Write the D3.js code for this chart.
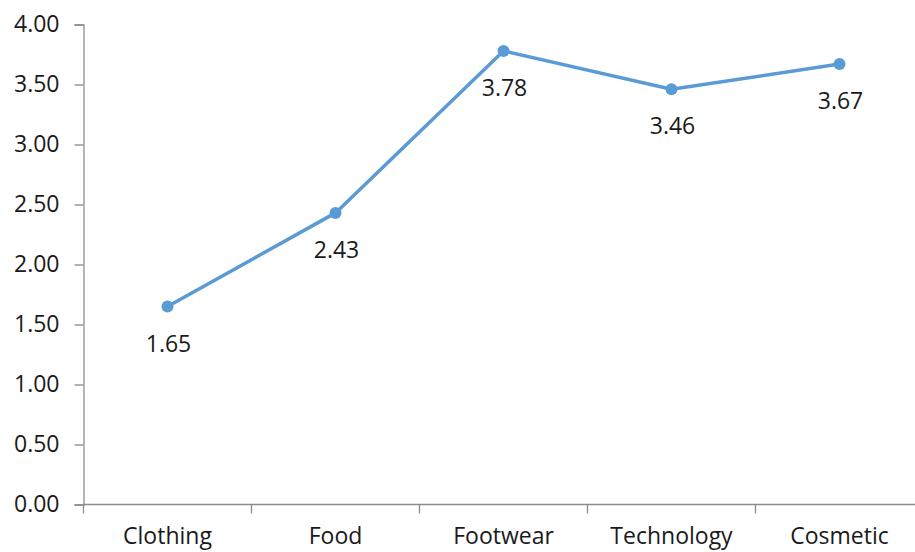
<!DOCTYPE html>
<html lang="en">
<head>
    <meta charset="UTF-8">
    <script src="https://d3js.org/d3.v7.min.js"></script>
    <title>Line chart</title>
    <style>
        body{ margin:0; background:#fff; }
        svg{ display:block; }
        text{ font-family: "Open Sans", sans-serif; fill:#1a1a1a; }
    </style>
</head>
<body>
    <script>
        const categories = ["Clothing", "Food", "Footwear", "Technology", "Cosmetic"];
        const values = [1.65, 2.43, 3.78, 3.46, 3.67];
        const yTicks = [0, 0.5, 1, 1.5, 2, 2.5, 3, 3.5, 4];

        const width = 915;
        const height = 552;
        const margin = {top: 24.5, left: 83.5, bottom: 504.5};

        const data = categories.map((c, i) => ({name: c, value: values[i]}));

        const x = d3.scaleBand()
            .domain(categories)
            .range([margin.left, margin.left + 5 * 168])
            .padding(0);

        const y = d3.scaleLinear()
            .domain([0, 4])
            .range([margin.bottom, margin.top]);

        const svg = d3.select('body')
            .append('svg')
            .attr('width', width)
            .attr('height', height);

        // y axis
        const yAxis = d3.axisLeft(y)
            .tickValues(yTicks)
            .tickFormat(d3.format('.2f'))
            .tickSize(9)
            .tickPadding(15);

        const gy = svg.append('g')
            .attr('transform', `translate(${margin.left}, 0)`)
            .call(yAxis);
        gy.select('.domain').attr('stroke', '#8c8c8c').attr('stroke-width', 1.3);
        gy.selectAll('.tick line').attr('stroke', '#8c8c8c').attr('stroke-width', 1.3);
        gy.selectAll('.tick text')
            .attr('font-size', 23)
            .attr('font-family', '"Open Sans", sans-serif')
            .attr('fill', '#1a1a1a');

        // x axis: labels centred on bands, ticks on band edges
        const xAxis = d3.axisBottom(x).tickSize(0).tickPadding(23);
        const gx = svg.append('g')
            .attr('transform', `translate(0, ${margin.bottom})`)
            .call(xAxis);
        gx.select('.domain').remove();
        gx.selectAll('.tick text')
            .attr('font-size', 23)
            .attr('font-family', '"Open Sans", sans-serif')
            .attr('fill', '#1a1a1a');

        gx.append('line')
            .attr('x1', margin.left)
            .attr('x2', width)
            .attr('stroke', '#8c8c8c')
            .attr('stroke-width', 1.3);

        gx.selectAll('.edge')
            .data(categories).enter()
            .append('line')
            .attr('class', 'edge')
            .attr('x1', d => x(d))
            .attr('x2', d => x(d))
            .attr('y1', 0)
            .attr('y2', 9)
            .attr('stroke', '#8c8c8c')
            .attr('stroke-width', 1.3);

        // line
        const line = d3.line()
            .x(d => x(d.name) + x.bandwidth() / 2)
            .y(d => y(d.value));

        svg.append('path')
            .datum(data)
            .attr('d', line)
            .attr('fill', 'none')
            .attr('stroke', '#5b9bd5')
            .attr('stroke-width', 3.5)
            .attr('stroke-linejoin', 'round');

        svg.selectAll('.dot')
            .data(data).enter()
            .append('circle')
            .attr('class', 'dot')
            .attr('cx', d => x(d.name) + x.bandwidth() / 2)
            .attr('cy', d => y(d.value))
            .attr('r', 6)
            .attr('fill', '#5b9bd5');

        svg.selectAll('.val')
            .data(data).enter()
            .append('text')
            .attr('class', 'val')
            .attr('x', d => x(d.name) + x.bandwidth() / 2 + 1)
            .attr('y', d => y(d.value) + 45)
            .attr('text-anchor', 'middle')
            .attr('font-size', 23)
            .text(d => d.value.toFixed(2));
    </script>
</body>
</html>
